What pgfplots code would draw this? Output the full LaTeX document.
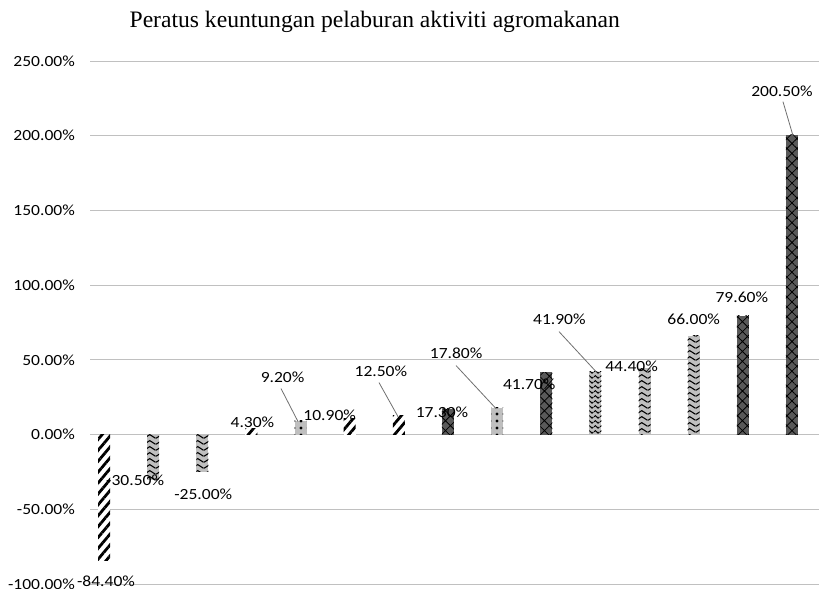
\documentclass[border=0pt]{standalone}
\usepackage{fontspec}
\setmainfont{Liberation Serif}
\newfontfamily\calfont[FakeStretch=1.13]{Carlito}
\usepackage{pgfplots}
\pgfplotsset{compat=1.18}
\usetikzlibrary{patterns,patterns.meta}
\definecolor{dg}{HTML}{595959}
\definecolor{lg}{HTML}{BFBFBF}
\definecolor{gridc}{HTML}{C0C0C0}
\definecolor{leadc}{HTML}{707070}
\tikzdeclarepattern{
  name=chevron,
  type=uncolored,
  bounding box={(0,0) and (12bp,6bp)},
  tile size={(12bp,6bp)},
  code={\draw[line width=1.2bp] (0,0.8bp) -- (6bp,5bp) -- (12bp,0.8bp);}
}
\tikzdeclarepattern{
  name=wave,
  type=uncolored,
  bounding box={(0,0) and (6bp,5bp)},
  tile size={(6bp,5bp)},
  code={\draw[line width=1.1bp] (0,2.5bp) sin (1.5bp,4bp) cos (3bp,2.5bp) sin (4.5bp,1bp) cos (6bp,2.5bp);}
}
\begin{document}
\begin{tikzpicture}
\useasboundingbox (0,0) rectangle (819bp,589bp);
\begin{axis}[
  at={(90bp,5bp)}, anchor=south west,
  scale only axis, width=729bp, height=523bp,
  xmin=-0.285, xmax=14.55,
  ymin=-100, ymax=250,
  ytick={-100,-50,0,50,100,150,200,250},
  xtick=\empty,
  ymajorgrids,
  major grid style={draw=gridc, line width=0.9bp},
  axis line style={draw=none},
  major tick length=0pt,
  clip=false,
  /pgf/number format/assume math mode=true,
  yticklabel={\pgfmathprintnumber[fixed,fixed zerofill,precision=2]{\tick}\%},
  yticklabel style={font=\calfont\fontsize{15.5bp}{18bp}\selectfont, anchor=east, inner sep=0pt, xshift=-15bp},
  title={Peratus keuntungan pelaburan aktiviti agromakanan},
  title style={at={(axis description cs:0.3906,1.0650)}, anchor=base, yshift=-6bp, font=\fontsize{23.6bp}{26bp}\selectfont, inner sep=0pt},
  nodes near coords={\pgfmathprintnumber[fixed,fixed zerofill,precision=2]{\pgfplotspointmeta}\%},
  every node near coord/.style={font=\calfont\fontsize{15.5bp}{18bp}\selectfont, anchor=center, inner sep=0pt, text=black},
  bb/.style={ybar, bar width=12bp, draw=none},
  stripe/.style={bb, fill=white, postaction={pattern={Lines[angle=50,distance=7bp,line width=2.8bp]}, pattern color=black}},
  chev/.style={bb, fill=lg, postaction={pattern=chevron, pattern color=black}},
  dotp/.style={bb, fill=lg, postaction={pattern={Dots[distance=7bp,radius=1.7bp]}, pattern color=black}},
  cross/.style={bb, fill=dg, postaction={pattern={Hatch[angle=45,distance=7bp,line width=0.8bp]}, pattern color=black}},
  wavy/.style={bb, fill=lg, postaction={pattern=wave, pattern color=black}},
  lbl/.style 2 args={every node near coord/.append style={xshift=#1, yshift=#2}},
]
\addplot[stripe, lbl={2bp}{-21bp}] coordinates {(0,-84.4)};
\addplot[chev,   lbl={-18bp}{0bp}] coordinates {(1,-30.5)};
\addplot[chev,   lbl={1bp}{-22bp}] coordinates {(2,-25.0)};
\addplot[stripe, lbl={1bp}{6bp}] coordinates {(3,4.3)};
\addplot[dotp,   lbl={-18bp}{44bp}] coordinates {(4,9.2)};
\addplot[stripe, lbl={-20bp}{3bp}] coordinates {(5,10.9)};
\addplot[stripe, lbl={-18bp}{45bp}] coordinates {(6,12.5)};
\addplot[cross,  lbl={-6bp}{-4bp}] coordinates {(7,17.3)};
\addplot[dotp,   lbl={-41bp}{55bp}] coordinates {(8,17.8)};
\addplot[cross,  lbl={-17bp}{-12bp}] coordinates {(9,41.7)};
\addplot[wavy,   lbl={-36bp}{53bp}] coordinates {(10,41.9)};
\addplot[chev,   lbl={-13bp}{2bp}] coordinates {(11,44.4)};
\addplot[chev,   lbl={0bp}{17bp}] coordinates {(12,66.0)};
\addplot[cross,  lbl={-1bp}{18bp}] coordinates {(13,79.6)};
\addplot[cross,  lbl={-10bp}{44bp}] coordinates {(14,200.5)};
% leader lines
\draw[leadc, line width=0.8bp] (axis cs:3.602,30.8) -- (axis cs:3.948,8.7);
\draw[leadc, line width=0.8bp] (axis cs:5.596,34.8) -- (axis cs:5.983,12.0);
\draw[leadc, line width=0.8bp] (axis cs:7.163,46.2) -- (axis cs:7.977,17.4);
\draw[leadc, line width=0.8bp] (axis cs:9.259,68.9) -- (axis cs:10.03,41.5);
\draw[leadc, line width=0.8bp] (axis cs:13.817,222.8) -- (axis cs:14.02,200.1);
\end{axis}
\end{tikzpicture}
\end{document}
